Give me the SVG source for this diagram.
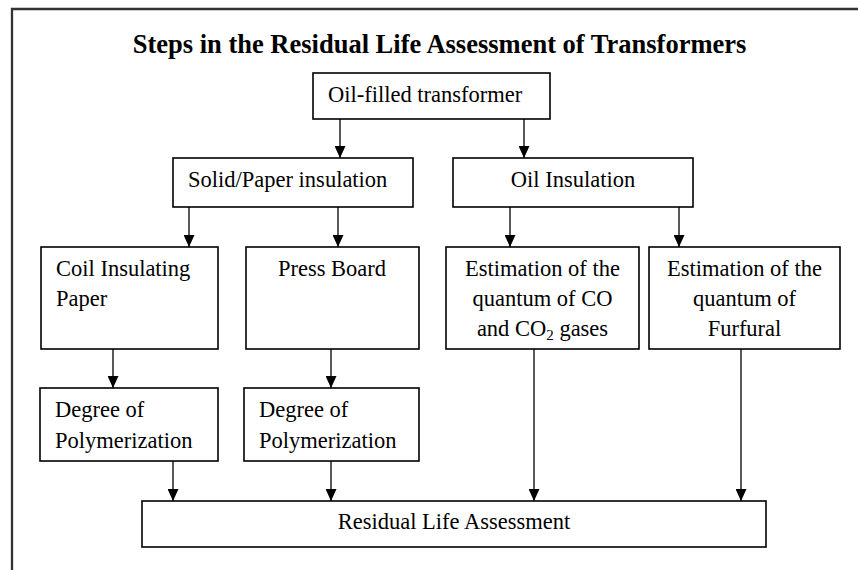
<svg xmlns="http://www.w3.org/2000/svg" width="858" height="570" viewBox="0 0 858 570">
<style>
.box{fill:#fff;stroke:#000;stroke-width:1.6}
.t{font-family:"Liberation Serif","Times New Roman",serif;font-size:22.5px;fill:#000}
.title{font-family:"Liberation Serif","Times New Roman",serif;font-size:26.5px;font-weight:bold;fill:#000}
.c{text-anchor:middle}
.ln{stroke:#000;stroke-width:1.3;fill:none;marker-end:url(#ah)}
</style>
<defs>
<marker id="ah" markerUnits="userSpaceOnUse" markerWidth="12" markerHeight="11" viewBox="0 0 12 11" refX="12" refY="5.5" orient="auto">
<path d="M0,0 L12,5.5 L0,11 z" fill="#000"/>
</marker>
</defs>
<rect width="858" height="570" fill="#fff"/>
<path d="M12,570 L12,9 L858,9" fill="none" stroke="#333" stroke-width="2.3"/>
<text class="title c" x="439.5" y="53">Steps in the Residual Life Assessment of Transformers</text>

<g id="connectors">
<line class="ln" x1="340" y1="119" x2="340" y2="158"/>
<line class="ln" x1="524" y1="119" x2="524" y2="158"/>
<line class="ln" x1="189" y1="207" x2="189" y2="247"/>
<line class="ln" x1="338" y1="207" x2="338" y2="247"/>
<line class="ln" x1="510" y1="207" x2="510" y2="247"/>
<line class="ln" x1="679" y1="207" x2="679" y2="247"/>
<line class="ln" x1="113" y1="349" x2="113" y2="388"/>
<line class="ln" x1="331" y1="349" x2="331" y2="388"/>
<line class="ln" x1="173" y1="461" x2="173" y2="501"/>
<line class="ln" x1="331" y1="461" x2="331" y2="501"/>
<line class="ln" x1="534" y1="349" x2="534" y2="501"/>
<line class="ln" x1="741" y1="349" x2="741" y2="501"/>
</g>

<g id="oil-filled">
<rect class="box" x="313" y="73" width="237" height="46"/>
<text class="t" x="328" y="102">Oil-filled transformer</text>
</g>
<g id="solid-paper">
<rect class="box" x="173" y="158" width="240" height="49"/>
<text class="t" x="188" y="187">Solid/Paper insulation</text>
</g>
<g id="oil-insulation">
<rect class="box" x="453" y="158" width="240" height="49"/>
<text class="t c" x="573" y="187">Oil Insulation</text>
</g>
<g id="coil-paper">
<rect class="box" x="41" y="247" width="177" height="102"/>
<text class="t" x="56" y="276">Coil Insulating</text>
<text class="t" x="56" y="306">Paper</text>
</g>
<g id="press-board">
<rect class="box" x="246" y="247" width="173" height="102"/>
<text class="t c" x="332" y="276">Press Board</text>
</g>
<g id="est-co">
<rect class="box" x="446" y="247" width="193" height="102"/>
<text class="t c" x="542.5" y="276">Estimation of the</text>
<text class="t c" x="542.5" y="306">quantum of CO</text>
<text class="t c" x="542.5" y="336">and CO<tspan font-size="15" dy="4">2</tspan><tspan dy="-4"> gases</tspan></text>
</g>
<g id="est-furfural">
<rect class="box" x="649" y="247" width="191" height="102"/>
<text class="t c" x="744.5" y="276">Estimation of the</text>
<text class="t c" x="744.5" y="306">quantum of</text>
<text class="t c" x="744.5" y="336">Furfural</text>
</g>
<g id="dp-left">
<rect class="box" x="40" y="388" width="178" height="73"/>
<text class="t" x="55" y="417">Degree of</text>
<text class="t" x="55" y="448">Polymerization</text>
</g>
<g id="dp-right">
<rect class="box" x="244" y="388" width="175" height="73"/>
<text class="t" x="259" y="417">Degree of</text>
<text class="t" x="259" y="448">Polymerization</text>
</g>
<g id="residual">
<rect class="box" x="142" y="501" width="624" height="46"/>
<text class="t c" x="454" y="529">Residual Life Assessment</text>
</g>
</svg>
